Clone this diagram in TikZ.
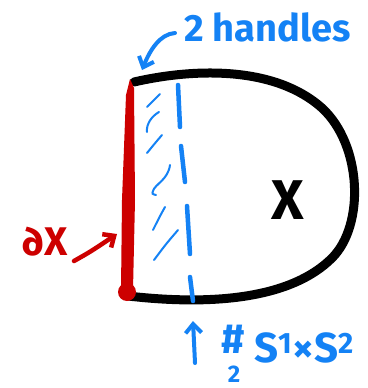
\documentclass[tikz,border=0pt]{standalone}
\usepackage{fontspec}
\setmainfont{Fira Sans}
\usetikzlibrary{arrows.meta}
\definecolor{inkblue}{RGB}{20,130,245}
\definecolor{inkred}{RGB}{205,0,0}
\tikzset{
  bluetext/.style={text=inkblue, font=\bfseries\fontsize{38}{42}\selectfont, inner sep=0pt},
  redtext/.style={text=inkred, font=\bfseries\fontsize{40}{44}\selectfont, inner sep=0pt},
  bluearrow/.style={draw=inkblue, line width=4pt, line cap=round, -{Straight Barb[length=9pt,width=16pt,line width=4pt]}},
  redarrow/.style={draw=inkred, line width=4.5pt, line cap=round, -{Straight Barb[length=9pt,width=16pt,line width=4.5pt]}},
  hatch/.style={draw=inkblue, line width=2pt, line cap=round},
  dashstroke/.style={draw=inkblue, line width=4.5pt, line cap=round},
}
\begin{document}
\begin{tikzpicture}[x=1pt,y=-1pt]
\useasboundingbox[fill=white] (0,0) rectangle (367,388);
% black outline
\draw[line width=9pt, line cap=round] (134,82) .. controls (195,68) and (275,66) .. (322,108)
  .. controls (362,145) and (365,225) .. (332,258)
  .. controls (292,298) and (215,306) .. (128,296);
% red boundary
\fill[inkred] (130,79) -- (134,88) -- (135,200) -- (133,290) -- (121,290) -- (122,200) -- (126,95) -- cycle;
\fill[inkred] (127,292) circle (9pt);
% blue dashed curve
\draw[dashstroke] (178,85) -- (180,127);
\draw[dashstroke] (181,146) -- (185,182);
\draw[dashstroke] (187,206) -- (190,254);
\draw[dashstroke] (190,277) -- (193,301);
% hatch strokes
\draw[hatch] (160,94) .. controls (154,100) .. (147,107);
\draw[hatch] (159,112) .. controls (152,116) and (146,124) .. (147,132);
\draw[hatch] (162,135) .. controls (156,142) .. (147,153);
\draw[hatch] (170,165) .. controls (168,180) and (155,184) .. (153,191) .. controls (152,194) .. (156,195);
\draw[hatch] (165,207) .. controls (160,216) .. (153,230);
\draw[hatch] (178,230) .. controls (166,244) .. (154,260);
% labels
\node[bluetext, anchor=west] (handles) at (184,27) {2 handles};
\coordinate (corner) at (142,70);
\draw[bluearrow] (175,33) .. controls (160,34) and (150,50) .. (corner);
\node[redtext, anchor=center] (dX) at (45,242) {∂X};
\coordinate (redend) at (117,234);
\draw[redarrow] (74,261) .. controls (90,252) .. (redend);
\node[font=\bfseries\fontsize{56}{60}\selectfont, inner sep=0pt] (X) at (288,200) {X};
\coordinate (bottomend) at (193,321);
\coordinate (bottomstart) at (195,363);
\draw[bluearrow] (bottomstart) -- (bottomend);
\node[bluetext, font=\bfseries\fontsize{42}{46}\selectfont] (hash) at (233,339) {\#};
\node[bluetext, font=\bfseries\fontsize{24}{28}\selectfont] (two) at (234,374) {2};
\node[bluetext, font=\bfseries\fontsize{42}{46}\selectfont, anchor=west] (sum) at (254,348) {S\textsuperscript{1}×S\textsuperscript{2}};
\end{tikzpicture}
\end{document}
